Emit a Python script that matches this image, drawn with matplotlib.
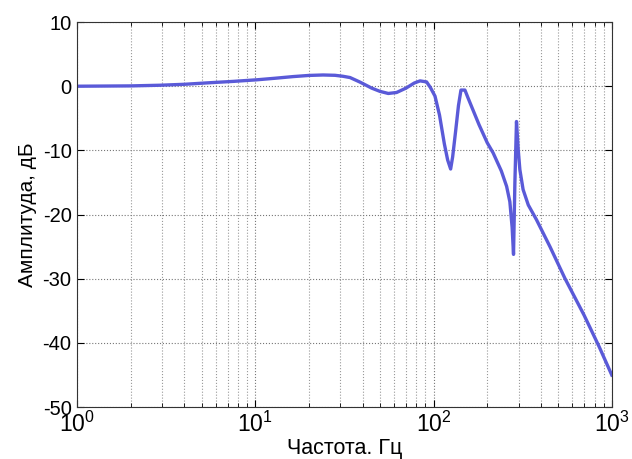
import numpy as np
import matplotlib.pyplot as plt

# amplitude response points (frequency in Hz, amplitude in dB)
freq_hz = [1, 2, 2.9, 4, 5.6, 7.5, 10.2, 13, 16.3, 20, 24, 28, 31, 34, 38.6,
           45, 50, 55.7, 62, 70, 78, 84, 91.4, 96, 101.9, 108, 115, 120, 124.7,
           128, 133, 138, 142.5, 150, 156, 163.6, 180, 200, 216, 240, 257,
           268, 276, 281, 286, 292, 295, 298.6, 305, 318, 340, 378, 450,
           545, 700, 850, 1000]
amp_db = [0.0, 0.05, 0.15, 0.3, 0.55, 0.75, 1.0, 1.25, 1.5, 1.68, 1.75, 1.7, 1.55, 1.35, 0.65,
          -0.3, -0.8, -1.13, -0.98, -0.3, 0.5, 0.83, 0.67, -0.2, -1.55, -4.5, -9.0, -11.5, -12.9,
          -11.0, -7.0, -3.0, -0.6, -0.6, -1.8, -3.2, -6.0, -8.8, -10.4, -13.2, -15.6,
          -18.0, -22.0, -26.2, -15.0, -5.5, -7.5, -9.9, -13.0, -16.1, -18.5, -20.8, -25.0,
          -29.9, -35.7, -40.6, -45.0]

x_ticks = [1, 10, 100, 1000]
x_tick_labels = ['$10^0$', '$10^1$', '$10^2$', '$10^3$']
y_ticks = [-50, -40, -30, -20, -10, 0, 10]

plt.rcParams['font.family'] = ['Liberation Sans', 'DejaVu Sans']
plt.rcParams['mathtext.fontset'] = 'custom'
plt.rcParams['mathtext.rm'] = 'Liberation Sans'
plt.rcParams['mathtext.it'] = 'Liberation Sans'
plt.rcParams['axes.unicode_minus'] = False

fig = plt.figure(figsize=(6.32, 4.59), dpi=100)
ax = fig.add_axes([0.122, 0.113, 0.846, 0.839])

ax.semilogx(freq_hz, amp_db, color='#5a5ad8', linewidth=2.4)

ax.set_xlim(1, 1000)
ax.set_ylim(-50, 10)
ax.set_xticks(x_ticks)
ax.set_xticklabels(x_tick_labels)
ax.set_yticks(y_ticks)

ax.grid(True, which='major', linestyle=':', color='#777777', linewidth=0.8)
ax.grid(True, which='minor', axis='x', linestyle=':', color='#999999', linewidth=0.8)
ax.tick_params(which='both', direction='in', labelsize=14.5, top=True, right=True)
ax.tick_params(axis='y', which='major', pad=4)
ax.tick_params(axis='x', which='major', pad=3, labelsize=16.5)
ax.tick_params(which='minor', length=3)
ax.tick_params(which='major', length=5)
for s in ax.spines.values():
    s.set_color('#333333')

ax.set_xlabel('Частота. Гц', fontsize=15.5, labelpad=1)
ax.set_ylabel('Амплитуда, дБ', fontsize=15, labelpad=4)

fig.savefig('out.png', dpi=100)
